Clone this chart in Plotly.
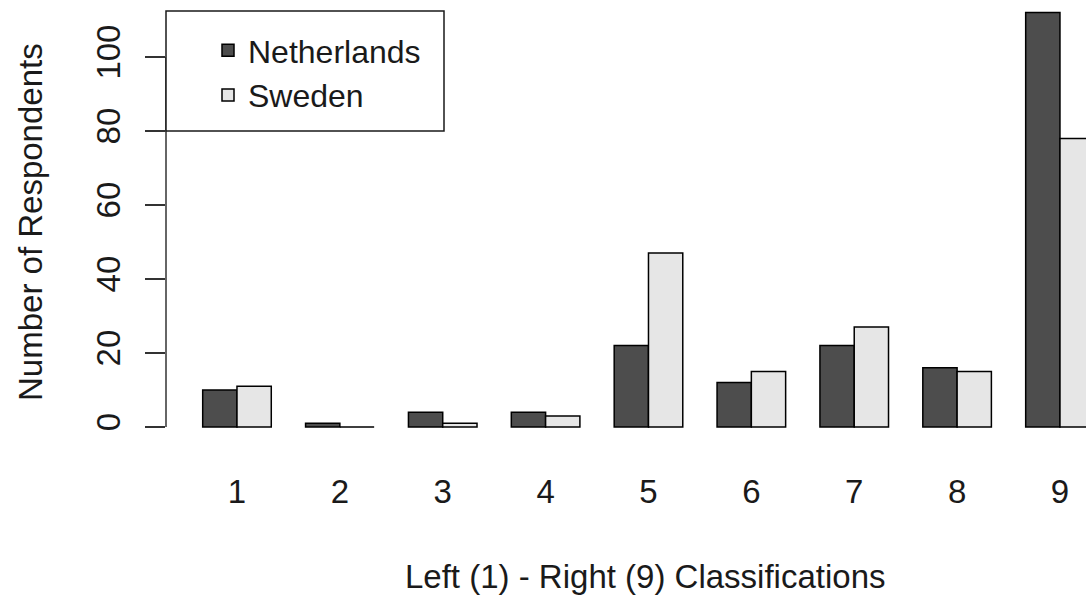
import plotly.graph_objects as go

categories = ["1", "2", "3", "4", "5", "6", "7", "8", "9"]
netherlands = [10, 1, 4, 4, 22, 12, 22, 16, 112]
sweden = [11, 0, 1, 3, 47, 15, 27, 15, 78]
y_ticks = [0, 20, 40, 60, 80, 100]

FONT = "Liberation Sans, Arial, Helvetica, sans-serif"
FS = 33
TXT = "#1a1a1a"

W, H = 1086, 595
L, R, T, B = 166, 0, 0, 151

fig = go.Figure()
fig.add_trace(go.Bar(x=categories, y=netherlands, name="Netherlands",
                     marker=dict(color="#4D4D4D", line=dict(color="black", width=1.5))))
fig.add_trace(go.Bar(x=categories, y=sweden, name="Sweden",
                     marker=dict(color="#E6E6E6", line=dict(color="black", width=1.5))))

pw = W - L - R
ph = H - T - B

fig.update_layout(
    width=W, height=H,
    margin=dict(l=L, r=R, t=T, b=B, pad=0),
    paper_bgcolor="white", plot_bgcolor="white",
    barmode="group", bargap=1/3, bargroupgap=0,
    font=dict(family=FONT, size=FS, color=TXT),
    showlegend=True,
    legend=dict(x=(208 - L) / pw, y=1 - 23 / ph, xanchor="left", yanchor="top",
                bgcolor="rgba(0,0,0,0)", borderwidth=0,
                font=dict(family=FONT, size=32, color=TXT),
                itemwidth=30, tracegroupgap=0),
    xaxis=dict(type="category", range=[-0.690, 8.253], showline=False, showgrid=False,
               zeroline=False, ticks="", ticklabelstandoff=25,
               tickfont=dict(family=FONT, size=FS, color=TXT)),
    yaxis=dict(range=[-4.59, 115.41], showline=False, showgrid=False, zeroline=False,
               tickvals=y_ticks, ticks="outside", ticklen=20, tickwidth=1.5,
               tickcolor="#333", tickangle=-90, ticklabelstandoff=12,
               tickfont=dict(family=FONT, size=FS, color=TXT)),
    shapes=[
        dict(type="line", xref="paper", yref="y", x0=0, x1=0, y0=y_ticks[0], y1=y_ticks[-1],
             line=dict(color="#333", width=1.5)),
        dict(type="rect", xref="paper", yref="paper",
             x0=0, x1=(444 - L) / pw, y0=1 - 131 / ph, y1=1 - 11 / ph,
             fillcolor="white", line=dict(color=TXT, width=1.5), layer="above"),
    ],
    annotations=[
        dict(text="Number of Respondents", xref="paper", yref="paper",
             x=(30 - L) / pw, y=1 - (222 - T) / ph, textangle=-90, showarrow=False,
             xanchor="center", yanchor="middle",
             font=dict(family=FONT, size=FS, color=TXT)),
        dict(text="Left (1) - Right (9) Classifications", xref="paper", yref="paper",
             x=(645 - L) / pw, y=1 - (576 - T) / ph, showarrow=False,
             xanchor="center", yanchor="middle",
             font=dict(family=FONT, size=FS, color=TXT)),
    ],
)

fig.write_html("out.html",
               config={"displayModeBar": False},
               post_script="document.body.style.margin='0';document.body.style.padding='0';")
